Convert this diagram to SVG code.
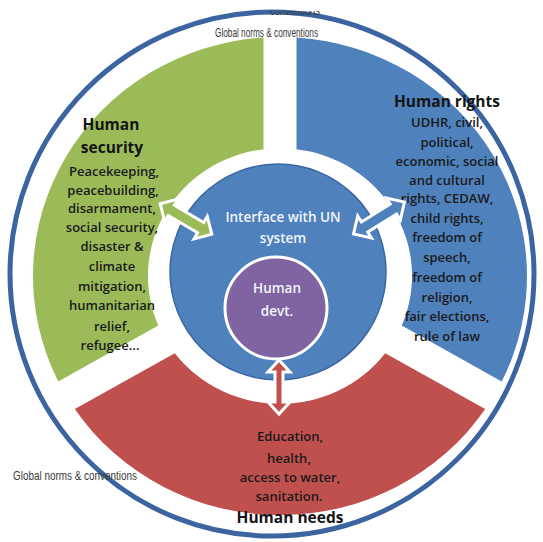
<svg xmlns="http://www.w3.org/2000/svg" width="543" height="542" viewBox="0 0 543 542">
<style>
.body{font-family:"Open Sans","Liberation Sans",sans-serif;font-size:13px;font-weight:600;fill:#1a1a1a;text-anchor:middle}
.title{font-family:"Open Sans","Liberation Sans",sans-serif;font-size:15.5px;font-weight:bold;fill:#141414;text-anchor:middle}
.norms{font-family:"Liberation Sans",Arial,sans-serif;font-size:13px;fill:#3a3a3a}
.white{font-family:"Open Sans","Liberation Sans",sans-serif;font-weight:600;fill:#f2f5fb;text-anchor:middle}
.arrow{stroke:#ffffff;stroke-width:3;stroke-linejoin:miter}
</style>
<defs>
<clipPath id="topclip"><rect x="0" y="11" width="543" height="9"/></clipPath>
</defs>
<rect width="543" height="542" fill="#ffffff"/>

<g id="outer-ring">
<circle cx="272" cy="274" r="262" fill="none" stroke="#3b64a0" stroke-width="5"/>
</g>

<g id="human-security">
<path transform="translate(280,276) scale(1,0.968)" d="M -221.7 108.9 A 247 247 0 0 1 -16.5 -246.4 L -16.5 -131 A 132 132 0 0 0 -121.7 51.2 Z" fill="#9bbb59"/>
<text class="title" x="111" y="130">Human</text>
<text class="title" x="112" y="153">security</text>
<text class="body" x="114" y="176">Peacekeeping,</text>
<text class="body" x="113" y="195">peacebuilding,</text>
<text class="body" x="112" y="213">disarmament,</text>
<text class="body" x="112" y="232">social security,</text>
<text class="body" x="112" y="251">disaster &amp;</text>
<text class="body" x="112" y="271">climate</text>
<text class="body" x="112" y="291">mitigation,</text>
<text class="body" x="112" y="310">humanitarian</text>
<text class="body" x="112" y="331">relief,</text>
<text class="body" x="110" y="350">refugee...</text>
</g>

<g id="human-rights">
<path transform="translate(280,276) scale(1,0.968)" d="M 16.5 -246.4 A 247 247 0 0 1 221.7 108.9 L 121.7 51.2 A 132 132 0 0 0 16.5 -131 Z" fill="#4f81bd"/>
<text class="title" x="447" y="107">Human rights</text>
<text class="body" x="447" y="127">UDHR, civil,</text>
<text class="body" x="447" y="147">political,</text>
<text class="body" x="447" y="166">economic, social</text>
<text class="body" x="447" y="185">and cultural</text>
<text class="body" x="447" y="203">rights, CEDAW,</text>
<text class="body" x="447" y="223">child rights,</text>
<text class="body" x="447" y="242">freedom of</text>
<text class="body" x="447" y="262">speech,</text>
<text class="body" x="447" y="282">freedom of</text>
<text class="body" x="447" y="302">religion,</text>
<text class="body" x="447" y="321">fair elections,</text>
<text class="body" x="447" y="341">rule of law</text>
</g>

<g id="human-needs">
<path transform="translate(280,276) scale(1,0.968)" d="M 205.2 137.5 A 247 247 0 0 1 -205.2 137.5 L -105.2 79.8 A 132 132 0 0 0 105.2 79.8 Z" fill="#c0504d"/>
<text class="body" x="290" y="441">Education,</text>
<text class="body" x="289" y="463">health,</text>
<text class="body" x="290" y="482">access to water,</text>
<text class="body" x="289" y="501">sanitation.</text>
<text class="title" x="290" y="523">Human needs</text>
</g>

<g id="interface-un">
<circle cx="278" cy="272" r="108" fill="#4f81bd" stroke="#3a66a0" stroke-width="1.5"/>
<text class="white" x="283" y="222" font-size="13.5">Interface with UN</text>
<text class="white" x="283" y="243" font-size="13.5">system</text>
</g>

<g id="human-devt">
<circle cx="276" cy="308" r="51" fill="#8064a2" stroke="#ffffff" stroke-width="3"/>
<text class="white" x="277" y="293" font-size="13.5" font-weight="bold">Human</text>
<text class="white" x="277" y="316" font-size="13.5" font-weight="bold">devt.</text>
</g>

<g id="connectors">
<path class="arrow" fill="#9bbb59" transform="translate(186,219) rotate(30.6)" d="M -30 0 L -17 -13 L -17 -6 L 17 -6 L 17 -13 L 30 0 L 17 13 L 17 6 L -17 6 L -17 13 Z"/>
<path class="arrow" fill="#4f81bd" transform="translate(379,218) rotate(-32)" d="M -30 0 L -17 -13 L -17 -6 L 17 -6 L 17 -13 L 30 0 L 17 13 L 17 6 L -17 6 L -17 13 Z"/>
<path class="arrow" fill="#c0504d" transform="translate(279,387) rotate(90)" d="M -27 0 L -15 -11 L -15 -4 L 15 -4 L 15 -11 L 27 0 L 15 11 L 15 4 L -15 4 L -15 11 Z"/>
</g>

<g id="norms-labels">
<text class="norms" x="215" y="37" textLength="103" lengthAdjust="spacingAndGlyphs">Global norms &amp; conventions</text>
<text class="norms" x="13" y="480" textLength="124" lengthAdjust="spacingAndGlyphs">Global norms &amp; conventions</text>
<g clip-path="url(#topclip)">
<text class="norms" x="270" y="15" textLength="50" lengthAdjust="spacingAndGlyphs">conventions</text>
</g>
</g>
</svg>
